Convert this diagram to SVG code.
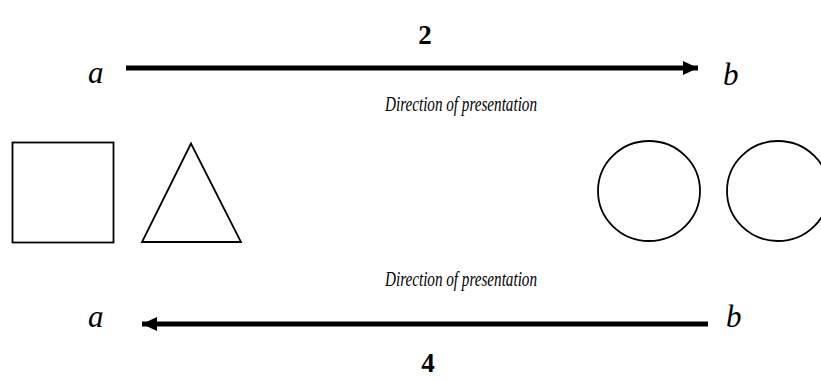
<svg xmlns="http://www.w3.org/2000/svg" width="821" height="381" viewBox="0 0 821 381">
<style>
.lbl{font-family:"Liberation Serif","Times New Roman",serif;font-style:italic;font-size:31px;fill:#000}
.dir{font-family:"Liberation Serif","Times New Roman",serif;font-style:italic;font-size:21px;fill:#000}
.num{font-family:"Liberation Serif","Times New Roman",serif;font-weight:bold;font-size:27px;fill:#000}
.shape{fill:none;stroke:#000;stroke-width:1.8}
.arrow{stroke:#000;stroke-width:5;fill:none}
</style>
<defs>
<marker id="ah" markerUnits="userSpaceOnUse" markerWidth="18" markerHeight="18" refX="15" refY="8" orient="auto">
<path d="M0,1 L15,8 L0,15 Z" fill="#000"/>
</marker>
</defs>
<g id="connectors">
<line class="arrow" x1="126" y1="68" x2="698" y2="68" marker-end="url(#ah)"/>
<line class="arrow" x1="708" y1="324" x2="142" y2="324" marker-end="url(#ah)"/>
</g>
<g id="top-label">
<text class="num" x="425" y="44" text-anchor="middle">2</text>
<text class="lbl" x="88" y="83">a</text>
<text class="lbl" x="723" y="85">b</text>
<text class="dir" x="385" y="111" textLength="152" lengthAdjust="spacingAndGlyphs">Direction of presentation</text>
</g>
<g id="square"><rect class="shape" x="12.5" y="142.5" width="101" height="100"/></g>
<g id="triangle"><polygon class="shape" points="191,143.5 142,242 241,242"/></g>
<g id="circle1"><ellipse class="shape" cx="649" cy="191" rx="51" ry="50"/></g>
<g id="circle2"><ellipse class="shape" cx="778" cy="191" rx="51" ry="50"/></g>
<g id="bottom-label">
<text class="dir" x="385" y="286" textLength="152" lengthAdjust="spacingAndGlyphs">Direction of presentation</text>
<text class="lbl" x="88" y="327">a</text>
<text class="lbl" x="726" y="327">b</text>
<text class="num" x="428" y="372" text-anchor="middle">4</text>
</g>
</svg>
